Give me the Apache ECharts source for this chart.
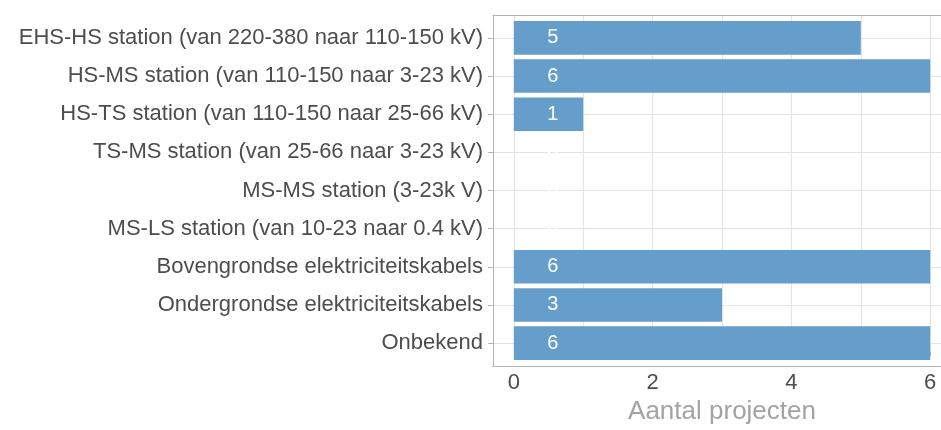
<!DOCTYPE html>
<html>
<head>
<meta charset="utf-8">
<script src="https://cdn.jsdelivr.net/npm/echarts@6/dist/echarts.min.js"></script>
<style>
  html, body { margin: 0; padding: 0; background: #fff; }
  #chart { width: 941px; height: 430px; }
</style>
</head>
<body>
<div id="chart"></div>
<script>
// data
const categories = [
  'EHS-HS station (van 220-380 naar 110-150 kV)',
  'HS-MS station (van 110-150 naar 3-23 kV)',
  'HS-TS station (van 110-150 naar 25-66 kV)',
  'TS-MS station (van 25-66 naar 3-23 kV)',
  'MS-MS station (3-23k V)',
  'MS-LS station (van 10-23 naar 0.4 kV)',
  'Bovengrondse elektriciteitskabels',
  'Ondergrondse elektriciteitskabels',
  'Onbekend'
]
const projectCounts = [5, 6, 1, 0, 0, 0, 6, 3, 6]
const xMax = 6
const xTitle = 'Aantal projecten'

const font = 'Liberation Sans, Arial, sans-serif'
const textColor = '#4d4d4d'
const gridColor = '#e4e4e4'
const frameColor = '#b3b3b3'
const barColor = '#669ecb'

// panel: x from -0.3 to 6.3 (right part runs off the picture), y expanded 0.6 category each side
const panelLeft = 493
const panelTop = 15
const panelHeight = 351
const unitX = 69.4
const unitY = panelHeight / (categories.length - 1 + 1.2)
const dataLeft = panelLeft + 0.3 * unitX

const chart = echarts.init(document.getElementById('chart'), null, { renderer: 'canvas' })

chart.setOption({
  animation: false,
  backgroundColor: '#fff',
  grid: [
    // frame (left, top, bottom lines)
    { left: panelLeft, top: panelTop, right: 0, height: panelHeight },
    // vertical grid lines + x axis
    { left: dataLeft, top: panelTop, width: xMax * unitX, height: panelHeight },
    // horizontal grid lines + category labels
    { left: panelLeft, top: panelTop + 0.6 * unitY, right: 0, height: (categories.length - 1) * unitY },
    // bars
    { left: dataLeft, top: panelTop + 0.1 * unitY, width: xMax * unitX, height: categories.length * unitY }
  ],
  xAxis: [
    { gridIndex: 0, type: 'value', position: 'bottom', axisLine: { show: true, lineStyle: { color: frameColor } },
      axisTick: { show: false }, axisLabel: { show: false }, splitLine: { show: false } },
    {
      gridIndex: 1, type: 'value', min: 0, max: xMax, interval: 2,
      axisLine: { show: false },
      axisTick: { show: true, length: 4, lineStyle: { color: frameColor } },
      axisLabel: { color: textColor, fontSize: 22, fontFamily: font, margin: 12, padding: [8, 0, 0, 0] },
      splitLine: { show: true, lineStyle: { color: gridColor, width: 1.2 } },
      minorTick: { show: false, splitNumber: 2 },
      minorSplitLine: { show: true, lineStyle: { color: gridColor, width: 1.2 } },
      name: xTitle, nameLocation: 'middle', nameGap: 35,
      nameTextStyle: { color: '#a3a3a3', fontSize: 26, fontFamily: font, padding: [6, 0, 0, 0] }
    },
    { gridIndex: 2, type: 'value', show: false },
    { gridIndex: 3, type: 'value', min: 0, max: xMax, show: false },
    { gridIndex: 0, type: 'value', position: 'top', axisLine: { show: true, lineStyle: { color: frameColor } },
      axisTick: { show: false }, axisLabel: { show: false }, splitLine: { show: false } }
  ],
  yAxis: [
    { gridIndex: 0, type: 'value', axisLine: { show: true, lineStyle: { color: frameColor } },
      axisTick: { show: false }, axisLabel: { show: false }, splitLine: { show: false } },
    { gridIndex: 1, type: 'value', show: false },
    {
      gridIndex: 2, type: 'category', data: categories, inverse: true, boundaryGap: false,
      axisLine: { show: false },
      axisTick: { show: true, length: 5, lineStyle: { color: frameColor } },
      axisLabel: { color: textColor, fontSize: 22, fontFamily: font, margin: 10, interval: 0, padding: [5, 0, 0, 0] },
      splitLine: { show: true, lineStyle: { color: gridColor, width: 1.2 } }
    },
    { gridIndex: 3, type: 'category', data: categories, inverse: true, show: false }
  ],
  series: [{
    type: 'bar',
    xAxisIndex: 3,
    yAxisIndex: 3,
    data: projectCounts,
    barWidth: '88%',
    itemStyle: { color: barColor },
    label: {
      show: true,
      position: [39, '50%'],
      align: 'center',
      verticalAlign: 'middle',
      color: '#ffffff',
      fontSize: 20,
      fontFamily: font
    }
  }]
})
</script>
</body>
</html>
